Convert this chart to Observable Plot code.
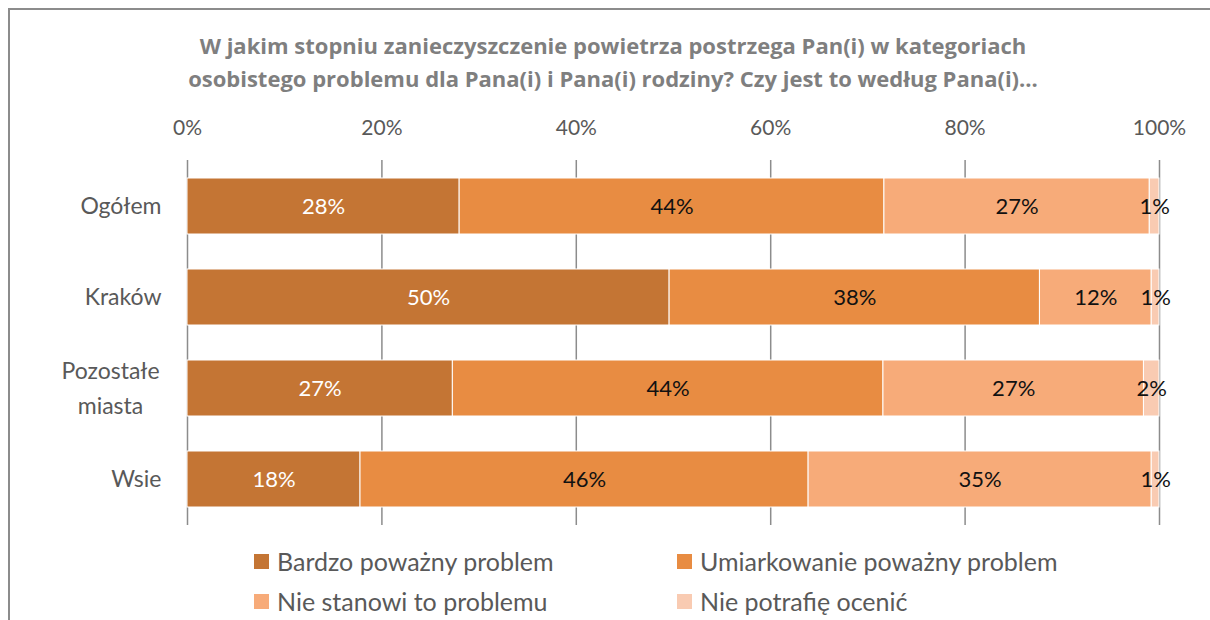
<!DOCTYPE html>
<html>
<head>
<meta charset="utf-8">
<script src="https://cdn.jsdelivr.net/npm/d3@7"></script>
<script src="https://cdn.jsdelivr.net/npm/@observablehq/plot@0.6"></script>
<style>
  html, body { margin: 0; padding: 0; background: #fff; overflow: hidden; width: 1210px; height: 620px; }
  body { font-family: Lato, "Open Sans", sans-serif; position: relative; }
  #frame { position: absolute; left: 8px; top: 8px; width: 1400px; height: 800px; border: 2px solid #8c8c8c; box-sizing: border-box; pointer-events: none; z-index: 10; background: transparent; }
  #title { position: relative; height: 100px; box-sizing: border-box; padding-top: 29px; text-align: center; color: #7f7f7f; font-family: "Open Sans", sans-serif; font-weight: bold; font-size: 22px; line-height: 33px; width: 1226px; }
  #chart { position: relative; height: 440px; }
  #legend { position: relative; height: 80px; font-size: 25px; color: #595959; }
  .item { position: absolute; display: flex; align-items: center; white-space: nowrap; }
  .sw { width: 15px; height: 15px; margin-right: 8px; }
</style>
</head>
<body>
<div id="frame"></div>
<div id="title">W jakim stopniu zanieczyszczenie powietrza postrzega Pan(i) w kategoriach<br>osobistego problemu dla Pana(i) i Pana(i) rodziny? Czy jest to według Pana(i)...</div>
<div id="chart"></div>
<div id="legend"></div>
<script>
const categories = ["Ogółem", "Kraków", "Pozostałe\nmiasta", "Wsie"];
const series = ["Bardzo poważny problem", "Umiarkowanie poważny problem", "Nie stanowi to problemu", "Nie potrafię ocenić"];
const colors = ["#C47534", "#E88C42", "#F7AB79", "#F9CBB2"];
const bardzo = [28.0, 49.6, 27.3, 17.8];
const umiarkowanie = [43.7, 38.1, 44.3, 46.1];
const nieStanowi = [27.3, 11.5, 26.8, 35.3];
const niePotrafie = [1.0, 0.8, 1.6, 0.8];
const xTicks = [0, 20, 40, 60, 80, 100];

const seriesValues = [bardzo, umiarkowanie, nieStanowi, niePotrafie];
const table = [];
categories.forEach((c, i) => {
  series.forEach((s, j) => {
    table.push({cat: c, series: s, value: seriesValues[j][i], label: Math.round(seriesValues[j][i]) + "%"});
  });
});

const singleLine = categories.filter(c => !c.includes("\n"));
const multiLine = categories.filter(c => c.includes("\n"));

const chart = Plot.plot({
  width: 1210,
  height: 440,
  marginLeft: 187,
  marginRight: 51,
  marginTop: 60,
  marginBottom: 15,
  style: {fontFamily: "Lato, 'Open Sans', sans-serif", background: "#fff"},
  x: {domain: [0, 100], label: null},
  y: {domain: categories, paddingInner: 0.38, paddingOuter: 0.174, label: null},
  color: {domain: series, range: colors},
  marks: [
    Plot.ruleX(xTicks, {stroke: "#8c8c8c", strokeWidth: 1.5}),
    Plot.barX(table, Plot.stackX({x: "value", y: "cat", fill: "series", order: series, stroke: "#fff", strokeWidth: 1})),
    Plot.text(table, Plot.stackX({x: "value", y: "cat", z: "series", order: series, text: "label",
      fill: d => d.series === series[0] ? "#ffffff" : "#111111", fontSize: 22})),
    Plot.axisX(xTicks, {anchor: "top", label: null, tickSize: 0, tickPadding: 26, tickFormat: d => d + "%", fontSize: 21, fill: "#595959"}),
    Plot.axisY(singleLine, {anchor: "left", label: null, tickSize: 0, tickPadding: 26, fontSize: 23, fill: "#595959", textAnchor: "end"}),
    Plot.axisY(multiLine, {anchor: "left", label: null, tickSize: 0, tickPadding: 0, dx: -77, dy: -3, fontSize: 23, fill: "#595959", textAnchor: "middle", lineHeight: 1.5})
  ]
});
document.getElementById("chart").appendChild(chart);

const legendPos = [[254, 0], [677, 0], [254, 40], [677, 40]];
const legend = document.getElementById("legend");
series.forEach((s, i) => {
  const it = document.createElement("div");
  it.className = "item";
  it.style.left = legendPos[i][0] + "px";
  it.style.top = (legendPos[i][1] + 6) + "px";
  it.innerHTML = `<span class="sw" style="background:${colors[i]}"></span><span>${s}</span>`;
  legend.appendChild(it);
});
</script>
</body>
</html>
